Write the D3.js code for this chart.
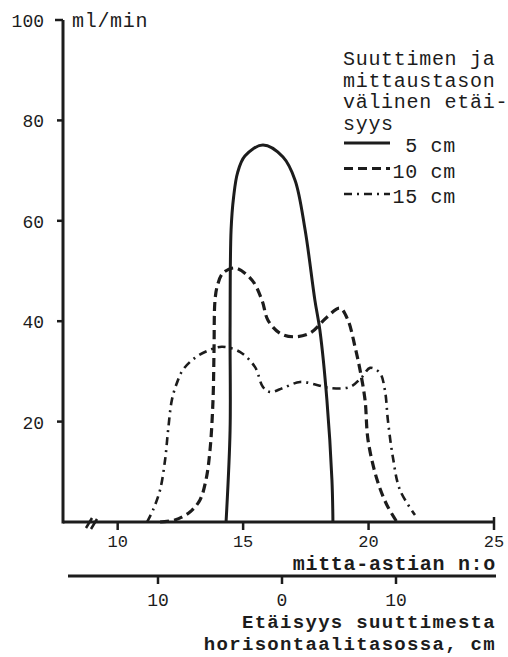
<!DOCTYPE html>
<html>
<head>
<meta charset="utf-8">
<script src="https://cdn.jsdelivr.net/npm/d3@7"></script>
<style>
  body { margin: 0; background: #fff; }
  text { font-family: "Courier New", Courier, "Nimbus Mono PS", FreeMono, "Liberation Mono", monospace; fill: #1c1c1c; }
</style>
</head>
<body>
<div id="chart"></div>
<script>
// mitta-astian n:o (x), ml/min (y)
var solid5 = [[14.32,0],[14.48,18.3],[14.48,38.2],[14.52,58.2],[14.62,64.7],[14.78,69.6],
    [15.07,72.9],[15.79,75.1],[16.59,72.7],[17.07,68.1],[17.47,58.2],[17.86,44.2],
    [18.06,38.2],[18.34,24.3],[18.54,8.4],[18.58,0]]
var dash10 = [[11.69,0],[12.28,0.4],[12.88,2.0],[13.28,4.4],[13.52,8.4],[13.68,14.3],
    [13.80,24.3],[13.84,34.3],[13.88,44.2],[13.98,47.2],[14.20,49.6],[14.68,50.6],
    [15.35,48.2],[15.75,44.2],[15.99,40.2],[16.47,37.6],[16.99,36.9],[17.66,37.6],
    [18.34,40.8],[18.86,42.6],[19.18,40.2],[19.46,34.9],[19.66,30.3],[19.86,24.3],
    [19.98,16.3],[20.34,8.4],[20.73,3.4],[21.13,0]]
var dashdot15 = [[11.17,0],[11.41,2.4],[11.69,6.4],[11.89,12.4],[12.01,18.3],[12.16,24.3],
    [12.36,27.7],[12.60,30.3],[13.08,32.7],[13.68,34.3],[14.16,34.9],[14.87,33.9],
    [15.47,30.9],[15.79,26.9],[16.07,25.9],[16.59,26.7],[17.27,27.9],[17.94,27.3],
    [18.46,26.7],[19.26,26.9],[19.74,28.9],[20.06,30.7],[20.45,29.7],[20.65,26.3],
    [20.77,20.3],[20.97,12.9],[21.25,6.4],[21.85,1.4]]

var yTicks = [20, 40, 60, 80, 100]
var xTicks = [10, 15, 20, 25]
var distTicks = [-10, 0, 10]
var legendHead = ["Suuttimen ja", "mittaustason", "välinen etäi-", "syys"]
var legendLabels = ["5 cm", "10 cm", "15 cm"]
var bottomTitle = ["Etäisyys suuttimesta", "horisontaalitasossa, cm"]

var width = 508, height = 657
var ink = "#1c1c1c"

var svg = d3.select("#chart").append("svg")
    .attr("width", width)
    .attr("height", height)

var x = d3.scaleLinear().domain([7.9, 25]).range([65, 494])
var y = d3.scaleLinear().domain([0, 100]).range([522, 20])
// lower scale: distance from nozzle, cm (ticks are not evenly spaced in the original)
var xd = d3.scaleLinear().domain([-10, 0, 10]).range([158, 282, 396])

var line = d3.line()
    .x(function (d) { return x(d[0]) })
    .y(function (d) { return y(d[1]) })
    .curve(d3.curveCatmullRom.alpha(0.5))

// curves
svg.append("path").datum(solid5).attr("d", line)
    .attr("fill", "none").attr("stroke", ink).attr("stroke-width", 3)
svg.append("path").datum(dash10).attr("d", line)
    .attr("fill", "none").attr("stroke", ink).attr("stroke-width", 3.2)
    .attr("stroke-dasharray", "9,5")
svg.append("path").datum(dashdot15).attr("d", line)
    .attr("fill", "none").attr("stroke", ink).attr("stroke-width", 2.6)
    .attr("stroke-dasharray", "8,5,2,5")

// y axis
svg.append("line").attr("x1", 63).attr("x2", 63).attr("y1", y(100)).attr("y2", y(0) + 1.5)
    .attr("stroke", ink).attr("stroke-width", 3)
svg.selectAll(".ytick").data(yTicks).enter().append("line")
    .attr("x1", function (d) { return d == 100 ? 55 : 57 }).attr("x2", 63)
    .attr("y1", function (d) { return y(d) }).attr("y2", function (d) { return y(d) })
    .attr("stroke", ink).attr("stroke-width", 2.5)
svg.selectAll(".ylab").data(yTicks).enter().append("text")
    .attr("x", 44).attr("y", function (d) { return y(d) + 7 })
    .attr("text-anchor", "end")
    .style("font-size", "18px")
    .text(function (d) { return d })
svg.append("text").attr("x", 72).attr("y", 27)
    .style("font-size", "20px").style("letter-spacing", "0.7px")
    .text("ml/min")

// x axis (mitta-astian n:o)
svg.append("line").attr("x1", 63).attr("x2", x(25) + 1).attr("y1", y(0)).attr("y2", y(0))
    .attr("stroke", ink).attr("stroke-width", 3)
svg.selectAll(".xtick").data(xTicks).enter().append("line")
    .attr("x1", function (d) { return x(d) }).attr("x2", function (d) { return x(d) })
    .attr("y1", function (d) { return d == 25 ? y(0) - 5 : y(0) }).attr("y2", y(0) + 8)
    .attr("stroke", ink).attr("stroke-width", 2.5)
svg.selectAll(".xlab").data(xTicks).enter().append("text")
    .attr("x", function (d) { return x(d) }).attr("y", 547)
    .attr("text-anchor", "middle")
    .style("font-size", "17px")
    .text(function (d) { return d })
// axis break mark
svg.append("path")
    .attr("d", "M86,528 L92,518 M91,529 L97,519")
    .attr("stroke", ink).attr("stroke-width", 2.5).attr("fill", "none")
svg.append("text").attr("x", 496).attr("y", 570)
    .attr("text-anchor", "end")
    .style("font-size", "20px").style("font-weight", "bold").style("letter-spacing", "0.7px")
    .text("mitta-astian n:o")

// lower axis (distance from nozzle)
svg.append("line").attr("x1", 68).attr("x2", 496).attr("y1", 576).attr("y2", 576)
    .attr("stroke", ink).attr("stroke-width", 3)
svg.selectAll(".dtick").data(distTicks).enter().append("line")
    .attr("x1", function (d) { return xd(d) }).attr("x2", function (d) { return xd(d) })
    .attr("y1", 576).attr("y2", 584)
    .attr("stroke", ink).attr("stroke-width", 2.5)
svg.selectAll(".dlab").data(distTicks).enter().append("text")
    .attr("x", function (d) { return xd(d) }).attr("y", 606)
    .attr("text-anchor", "middle")
    .style("font-size", "18px")
    .text(function (d) { return Math.abs(d) })
svg.selectAll(".btitle").data(bottomTitle).enter().append("text")
    .attr("x", 496).attr("y", function (d, i) { return 628 + i * 22 })
    .attr("text-anchor", "end")
    .style("font-size", "19px").style("font-weight", "bold").style("letter-spacing", "1.3px")
    .text(function (d) { return d })

// legend
svg.selectAll(".lhead").data(legendHead).enter().append("text")
    .attr("x", 343).attr("y", function (d, i) { return 65 + i * 21.5 })
    .style("font-size", "20px").style("letter-spacing", "0.7px")
    .text(function (d) { return d })

var dashes = [null, "9,5", "8,5,2,5"]
var widths = [3, 3.2, 2.6]
legendLabels.forEach(function (lab, i) {
    var ly = 152 + i * 25.5
    svg.append("line").attr("x1", 344).attr("x2", 390)
        .attr("y1", ly - 9).attr("y2", ly - 9)
        .attr("stroke", ink).attr("stroke-width", widths[i])
        .attr("stroke-dasharray", dashes[i])
    svg.append("text").attr("x", 456).attr("y", ly)
        .attr("text-anchor", "end")
        .style("font-size", "20px").style("letter-spacing", "0.7px")
        .text(lab)
})
</script>
</body>
</html>
